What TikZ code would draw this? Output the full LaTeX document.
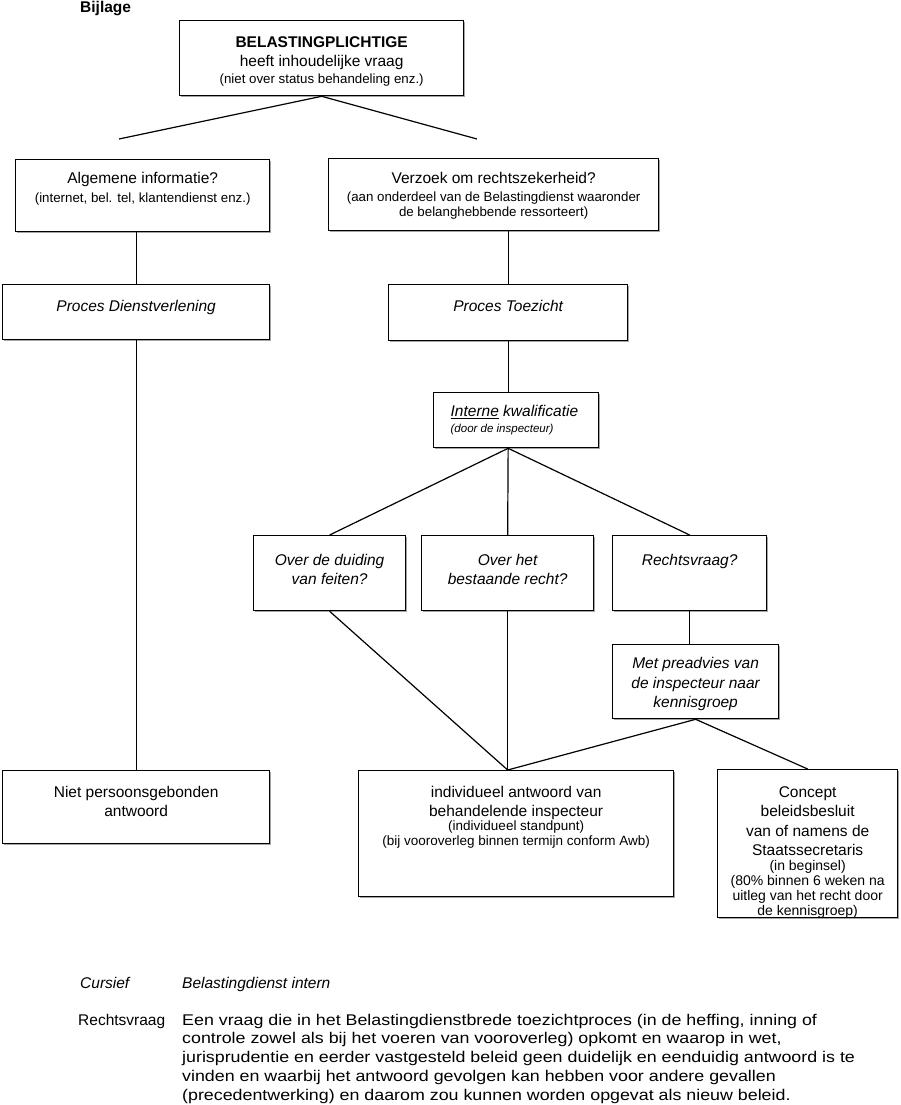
\documentclass[tikz,border=0pt]{standalone}
\usepackage{fontspec}
\setmainfont{Liberation Sans}
\newfontfamily\widef[FakeStretch=1.15]{Liberation Sans}
\usetikzlibrary{shadows}

\newcommand{\mainf}{\fontsize{15.5}{18.5}\selectfont}
\newcommand{\smallf}{\fontsize{13.3}{15}\selectfont}
% text inside a box: width, height, first baseline, contents
\newcommand{\boxtext}[4]{\parbox[c][#2pt][t]{#1pt}{\centering\rule{0pt}{#3pt}#4}}

\begin{document}
\begin{tikzpicture}[
   x=1pt, y=-1pt,
   box/.style={draw=black, fill=white, line width=1.3, inner sep=0, anchor=north west,
               drop shadow={shadow xshift=1.6pt, shadow yshift=-1.6pt, fill=black!35, opacity=1}},
   link/.style={line width=1.2, color=black},
   legend/.style={anchor=base west, inner sep=0}
  ]

  \useasboundingbox (0, 0) rectangle (900, 1105);

  \node (Bijlage) at (80, 13) [legend, font=\mainf\bfseries] {Bijlage};

  % top
  \node (Bel) at (179, 20) [box] {\boxtext{284}{75}{27}{%
      {\mainf\bfseries BELASTINGPLICHTIGE\par}%
      {\mainf heeft inhoudelijke vraag\par}\vspace{2pt}%
      {\smallf (niet over status behandeling enz.)\par}}};
  \coordinate (LT) at (119, 139);
  \coordinate (RT) at (477, 139);

  \node (Alg) at (15, 159) [box] {\boxtext{254}{72}{24}{%
      {\mainf Algemene informatie?\par}\vspace{3.5pt}%
      {\smallf (internet, bel. tel, klantendienst enz.)\par}}};
  \node (Verz) at (328, 158) [box] {\boxtext{330}{72}{25}{%
      {\mainf Verzoek om rechtszekerheid?\par}\vspace{3pt}%
      {\smallf (aan onderdeel van de Belastingdienst waaronder\\de belanghebbende ressorteert)\par}}};

  \node (Dienst) at (2, 284) [box] {\boxtext{267}{55}{27}{{\mainf\itshape Proces Dienstverlening\par}}};
  \node (Toez) at (388, 284) [box] {\boxtext{239}{56}{27}{{\mainf\itshape Proces Toezicht\par}}};

  \node (Kwal) at (433, 392) [box] {\boxtext{165}{55}{24}{\leftskip=17pt\rightskip=0pt plus 1fil
      {\mainf\itshape \underline{Interne} kwalificatie\par}\vspace{3pt}%
      {\fontsize{11.5}{13}\selectfont\itshape (door de inspecteur)\par}}};

  % kwalificatie
  \node (Feit) at (253, 535) [box] {\boxtext{152}{75}{30}{{\mainf\itshape Over de duiding\\van feiten?\par}}};
  \node (Recht) at (421, 535) [box] {\boxtext{172}{75}{30}{{\mainf\itshape Over het\\bestaande recht?\par}}};
  \node (RVraag) at (612, 535) [box] {\boxtext{154}{75}{30}{{\mainf\itshape Rechtsvraag?\par}}};
  \node (Pread) at (612, 644) [box] {\boxtext{166}{74}{24}{%
      {\fontsize{15.5}{19.5}\selectfont\itshape Met preadvies van\\de inspecteur naar\\kennisgroep\par}}};

  % antwoorden
  \node (Niet) at (2, 770) [box] {\boxtext{267}{73}{27}{{\mainf Niet persoonsgebonden\\antwoord\par}}};
  \node (Indiv) at (358, 770) [box] {\boxtext{315}{126}{27}{%
      {\mainf individueel antwoord van\\behandelende inspecteur\par}%
      {\fontsize{13.5}{14.5}\selectfont (individueel standpunt)\\(bij vooroverleg binnen termijn conform Awb)\par}}};
  \node (Concept) at (717, 769) [box] {\boxtext{180}{148}{28}{%
      {\fontsize{15.5}{19.3}\selectfont Concept\\beleidsbesluit\\van of namens de\\Staatssecretaris\par}%
      {\fontsize{14}{15}\selectfont (in beginsel)\\(80\% binnen 6 weken na\\uitleg van het recht door\\de kennisgroep)\par}}};

  \foreach \B/\E in {Bel.south/LT, Bel.south/RT,
                     Dienst.north |- Alg.south/Dienst.north, Dienst.south/Niet.north,
                     Toez.north |- Verz.south/Toez.north, Toez.south/Toez.south |- Kwal.north,
                     Toez.south |- Kwal.south/Feit.north, Toez.south |- Kwal.south/Recht.north,
                     Toez.south |- Kwal.south/RVraag.north, RVraag.south/RVraag.south |- Pread.north,
                     Feit.south/Recht.south |- Indiv.north, Recht.south/Recht.south |- Indiv.north,
                     Pread.south/Recht.south |- Indiv.north, Pread.south/Concept.north} {
    \draw[link] (\B) -- (\E);
  }

  % legenda
  \node (Cursief) at (80, 988) [legend, font=\mainf\itshape] {Cursief};
  \node (Intern) at (182, 988) [legend, font=\mainf\itshape] {Belastingdienst intern};
  \node (RvTerm) at (78, 1025) [legend, font=\mainf] {Rechtsvraag};
  \node (RvUitleg) at (182, 1025) [legend] {\parbox[t]{700pt}{\widef\fontsize{15.5}{18.8}\selectfont\raggedright
      Een vraag die in het Belastingdienstbrede toezichtproces (in de heffing, inning of\\
      controle zowel als bij het voeren van vooroverleg) opkomt en waarop in wet,\\
      jurisprudentie en eerder vastgesteld beleid geen duidelijk en eenduidig antwoord is te\\
      vinden en waarbij het antwoord gevolgen kan hebben voor andere gevallen\\
      (precedentwerking) en daarom zou kunnen worden opgevat als nieuw beleid.}};

\end{tikzpicture}
\end{document}
